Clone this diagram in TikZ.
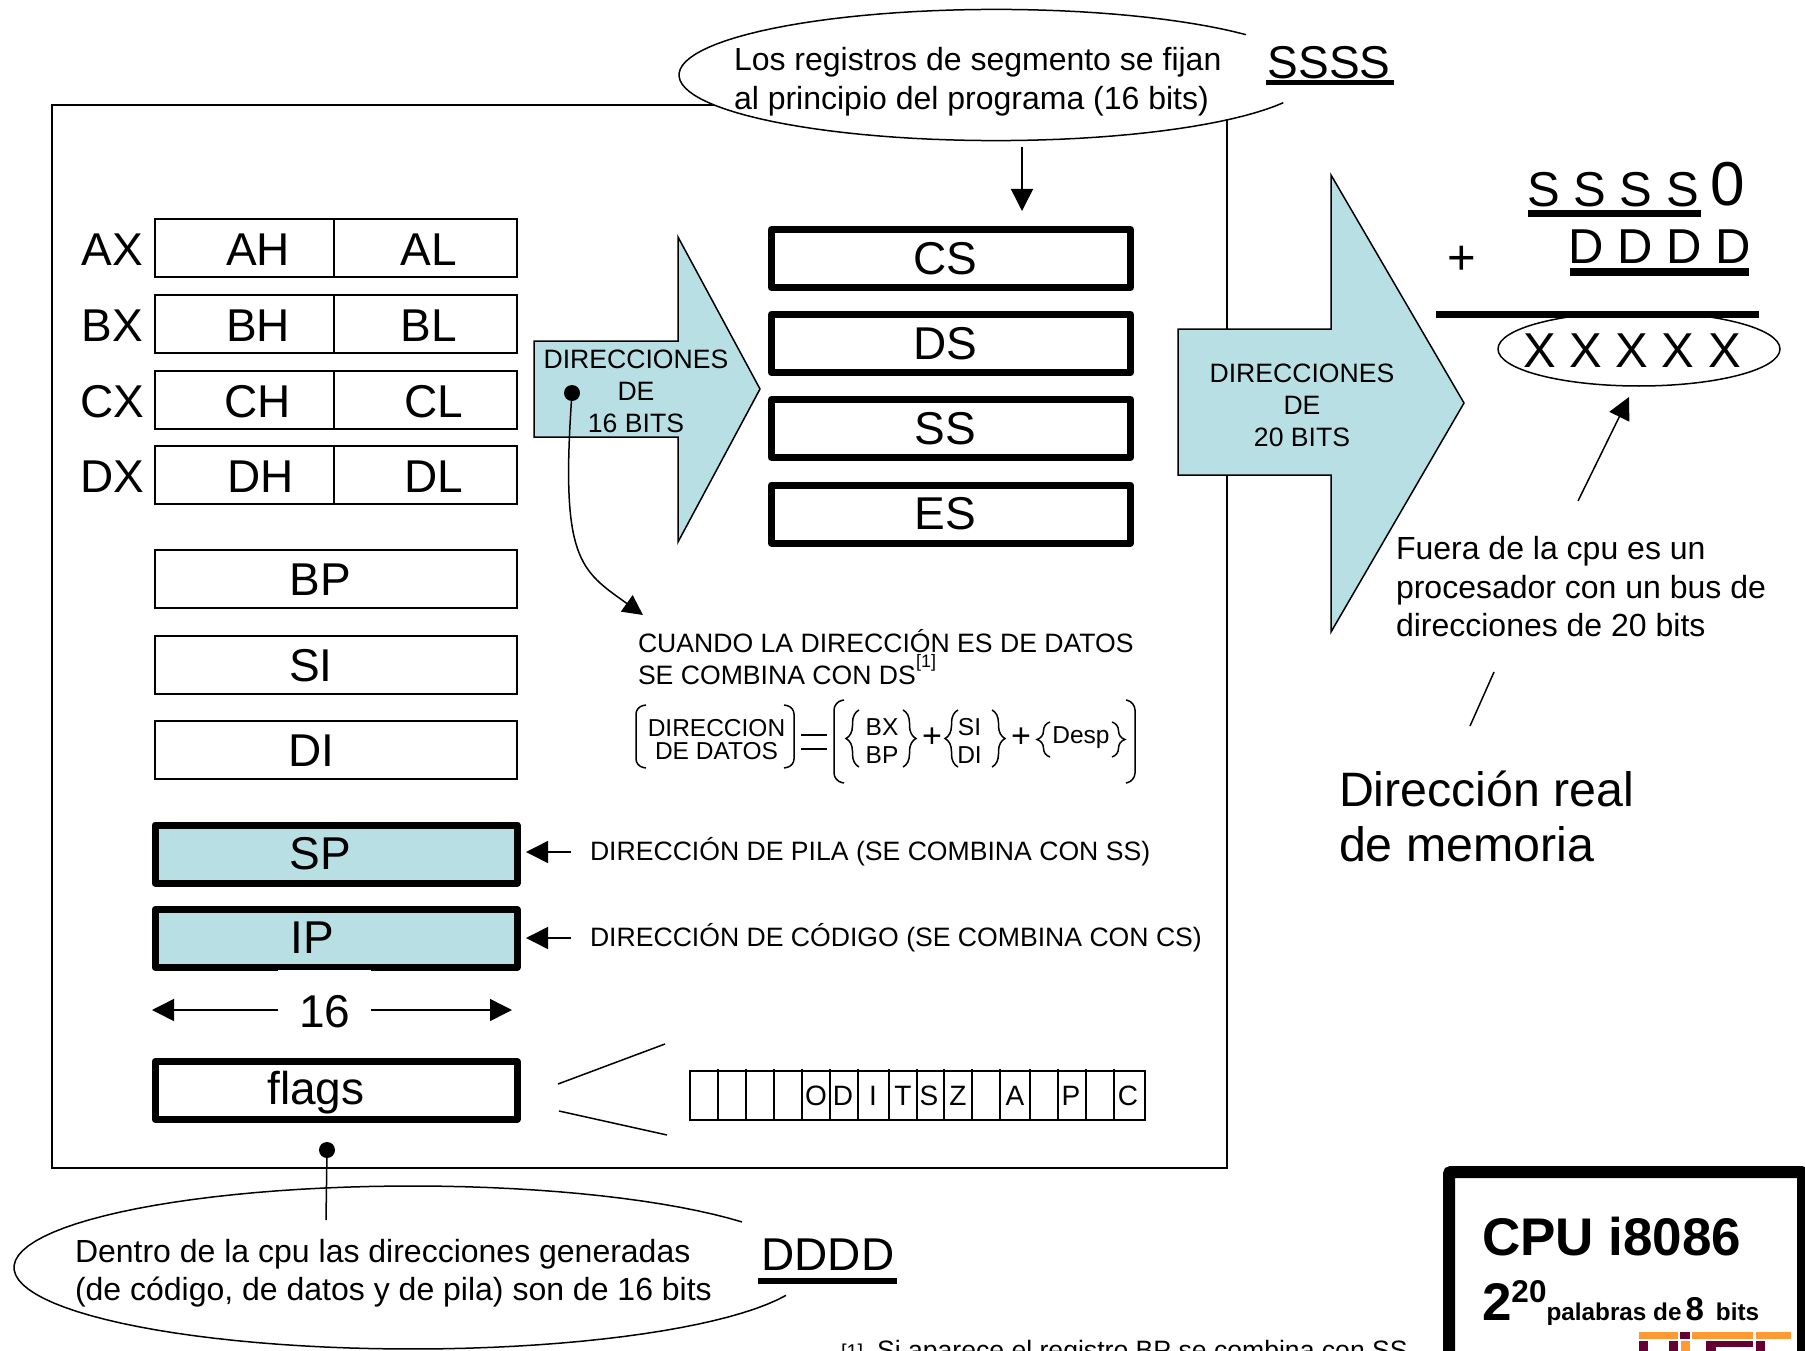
\documentclass[tikz,border=0pt]{standalone}
\usepackage{fontspec}
\setmainfont{Liberation Sans}
\usetikzlibrary{arrows.meta, decorations.pathreplacing}
\definecolor{regteal}{HTML}{B8E0E4}
\definecolor{logored}{HTML}{660033}
\definecolor{logoorg}{HTML}{FF9933}

\begin{document}
\begin{tikzpicture}[x=1pt, y=-1pt, line width=1.5pt,
    every node/.style={inner sep=0pt, outer sep=0pt},
    regbox/.style={draw, fill=white, minimum width=362pt, minimum height=58pt},
    thickbox/.style={draw, line width=7pt, line join=round, minimum width=362pt, minimum height=58pt},
    bignum/.style={font=\fontsize{46}{46}\selectfont},
    sumtext/.style={font=\fontsize{49}{49}\selectfont},
    note/.style={font=\fontsize{32}{38.5}\selectfont, align=left},
    small/.style={font=\fontsize{26.6}{32}\selectfont, align=center},
    tiny/.style={font=\fontsize{24.5}{23.5}\selectfont, align=center},
    tip/.style={-{Triangle[length=22pt, width=22pt]}},
    sumline/.style={line width=7pt},
    arrowfill/.style={draw, fill=regteal, line join=miter},
    bracebit/.style={decorate, decoration={brace, amplitude=13pt}}]
    \clip (0,0) rectangle (1805,1351);

    \draw (52,105) rectangle (1227,1168);

    % callout ellipses
    \fill[white] (996,75) ellipse [x radius=317, y radius=65.6];
    \draw plot[domain=25:322, samples=90] ({996+317*cos(\x)},{75+65.6*sin(\x)});
    \node[note, anchor=west] (segtext) at (734,81.5) {Los registros de segmento se fijan\\al principio del programa (16 bits)};
    \node[bignum] (ssss) at (1329,63) {SSSS};
    \coordinate (ssa) at (1266,83);
    \coordinate (ssb) at (1394,83);
    \draw[line width=5pt] (ssa) -- (ssb);

    \fill[white] (412,1267.5) ellipse [x radius=398, y radius=81.5];
    \draw plot[domain=20:326, samples=90] ({412+398*cos(\x)},{1267.5+81.5*sin(\x)});
    \node[note, anchor=west] (cputext) at (75,1273) {Dentro de la cpu las direcciones generadas\\(de código, de datos y de pila) son de 16 bits};
    \node[bignum] (dddd) at (828,1255) {DDDD};
    \coordinate (dda) at (758,1281);
    \coordinate (ddb) at (897,1281);
    \draw[line width=6pt] (dda) -- (ddb);
    \node[circle, fill, minimum size=16pt] (dotflags) at (327,1150) {};
    \coordinate (dotend) at (326,1220);
    \draw (dotflags.center) -- (dotend);

    % general registers
    \foreach \n/\y/\a/\ax/\b/\bx in {AX/248/AH/258/AL/429, BX/324/BH/258/BL/429, CX/400/CH/258/CL/434, DX/475/DH/261/DL/434} {
        \node[regbox] (box\n) at (336,\y) {};
        \draw ([xshift=-2pt]box\n.north) -- ([xshift=-2pt]box\n.south);
        \node[bignum] (lab\n) at (112,\y+2) {\n};
        \node[bignum] (lab\a) at (\ax,\y+2) {\a};
        \node[bignum] (lab\b) at (\bx,\y+2) {\b};
    }
    \foreach \n/\y/\tx in {BP/579/320, SI/665/311, DI/750/311} {
        \node[regbox] (box\n) at (336,\y) {};
        \node[bignum] (lab\n) at (\tx,\y+1) {\n};
    }
    \node[thickbox, fill=regteal] (boxSP) at (336,854) {};
    \node[bignum] (labSP) at (320,854) {SP};
    \node[thickbox, fill=regteal] (boxIP) at (336,938.5) {};
    \node[bignum] (labIP) at (312,938) {IP};
    \node[thickbox, fill=white] (boxflags) at (336,1090.5) {};
    \node[bignum] (labflags) at (316,1093) {flags};

    \node[fill=white, minimum width=93pt, minimum height=82pt] (num16) at (324.5,1011) {};
    \node[bignum] (lab16) at (325,1012) {16};
    \coordinate (wl) at (152,1010);
    \coordinate (wr) at (512,1010);
    \draw[tip] (num16.west |- wl) -- (wl);
    \draw[tip] (num16.east |- wr) -- (wr);

    % segment registers
    \foreach \n/\y in {CS/258.5, DS/343.5, SS/428.5, ES/514} {
        \node[thickbox, minimum width=359pt] (box\n) at (951,\y) {};
        \node[bignum] (lab\n) at (945,\y) {\n};
    }
    \coordinate (csa) at (1022,147);
    \coordinate (csb) at (1022,211);
    \draw[tip] (csa) -- (csb);

    % direction arrows
    \draw[arrowfill] (534,341) -- (678,341) -- (678,237) -- (760,389) -- (678,542) -- (678,437) -- (534,437) -- cycle;
    \node[small] (bits16) at (636,391) {DIRECCIONES\\DE\\16 BITS};
    \draw[arrowfill] (1178,329) -- (1331,329) -- (1331,175) -- (1464,403) -- (1331,632) -- (1331,475) -- (1178,475) -- cycle;
    \node[small] (bits20) at (1302,405) {DIRECCIONES\\DE\\20 BITS};

    \node[circle, fill, minimum size=16pt] (dotbits) at (572,393) {};
    \coordinate (curveend) at (643,615);
    \draw[-{Triangle[length=20pt, width=20pt]}] (dotbits.center) .. controls (560,560) and (580,570) .. (curveend);

    % data address formula
    \node[small, anchor=west, align=left] (datatext) at (638,657) {CUANDO LA DIRECCIÓN ES DE DATOS\\SE COMBINA CON DS};
    \node[font=\fontsize{18}{18}\selectfont] (datanote) at (926,663) {[1]};
    \draw[rounded corners=7pt] (646,705) -- (636,707) -- (636,766) -- (646,768);
    \draw[rounded corners=7pt] (784,705) -- (794,707) -- (794,766) -- (784,768);
    \node[tiny] (addrname) at (716.5,739.5) {DIRECCION\\DE DATOS};
    \coordinate (eqa) at (801,735);
    \coordinate (eqb) at (827,735);
    \coordinate (eqc) at (801,749);
    \coordinate (eqd) at (827,749);
    \draw (eqa) -- (eqb) (eqc) -- (eqd);
    \draw[rounded corners=8pt] (844,700) -- (834,702) -- (834,781) -- (844,783);
    \draw[rounded corners=8pt] (1126,700) -- (1135,702) -- (1135,781) -- (1126,783);
    \draw[bracebit] (859,767) -- (859,710);
    \draw[bracebit] (903,710) -- (903,767);
    \node[tiny] (basebx) at (882,727) {BX};
    \node[tiny] (basebp) at (882,755) {BP};
    \node[font=\fontsize{34}{34}\selectfont] (plusa) at (932,738) {+};
    \draw[bracebit] (958,767) -- (958,710);
    \draw[bracebit] (992,710) -- (992,767);
    \node[tiny] (basesi) at (969.5,727) {SI};
    \node[tiny] (basedi) at (969.5,755) {DI};
    \node[font=\fontsize{34}{34}\selectfont] (plusb) at (1021,738) {+};
    \draw[bracebit] (1050,757) -- (1050,722);
    \draw[bracebit] (1112,722) -- (1112,757);
    \node[tiny] (desp) at (1081,738) {Desp};

    % pointers to SP and IP
    \coordinate (spfrom) at (571,852);
    \coordinate (spto) at (526,852);
    \coordinate (ipfrom) at (571,938);
    \coordinate (ipto) at (526,938);
    \draw[tip] (spfrom) -- (spto);
    \draw[tip] (ipfrom) -- (ipto);
    \node[small, anchor=west] (sptext) at (590,852) {DIRECCIÓN DE PILA (SE COMBINA CON SS)};
    \node[small, anchor=west] (iptext) at (590,938) {DIRECCIÓN DE CÓDIGO (SE COMBINA CON CS)};

    % flags detail
    \coordinate (fa) at (558,1084);
    \coordinate (fb) at (665,1044);
    \coordinate (fc) at (559,1111);
    \coordinate (fd) at (667,1135);
    \draw (fa) -- (fb) (fc) -- (fd);
    \node[draw, minimum width=455pt, minimum height=49pt] (flagbits) at (917.5,1095.5) {};
    \foreach \x in {718,746,774,802,830,858,889,917,944,972,1000,1030,1058,1086,1114}
        \draw (\x,1069) -- (\x,1120);
    \foreach \t/\x in {O/816, D/843, I/873, T/903, S/929, Z/958, A/1015, P/1071, C/1128}
        \node[font=\fontsize{28}{28}\selectfont] (flag\t) at (\x,1096) {\t};

    % the sum
    \node[sumtext] (sumS) at (1613,190) {S S S S};
    \node[font=\fontsize{62}{62}\selectfont] (sumzero) at (1728,184) {0};
    \coordinate (usa) at (1528,214);
    \coordinate (usb) at (1701,214);
    \draw[sumline] (usa) -- (usb);
    \node[sumtext] (sumD) at (1660,247) {D D D D};
    \coordinate (uda) at (1570,272);
    \coordinate (udb) at (1749,272);
    \draw[sumline] (uda) -- (udb);
    \node[sumtext] (plus) at (1462,260) {+};
    \draw (1639,349) ellipse [x radius=141, y radius=37];
    \coordinate (suma) at (1436,314);
    \coordinate (sumb) at (1759,314);
    \draw[sumline] (suma) -- (sumb);
    \node[sumtext] (sumX) at (1632,351) {X X X X X};
    \coordinate (reala) at (1578,501);
    \coordinate (realb) at (1629,397);
    \draw[tip] (reala) -- (realb);

    \node[note, anchor=west] (outtext) at (1396,587) {Fuera de la cpu es un\\procesador con un bus de\\direcciones de 20 bits};
    \coordinate (linea) at (1494,672);
    \coordinate (lineb) at (1470,726);
    \draw (linea) -- (lineb);
    \node[font=\fontsize{48.3}{55}\selectfont, align=left, anchor=west] (realtext) at (1339,816) {Dirección real\\de memoria};

    % footnote and cpu card
    \node[font=\fontsize{20}{20}\selectfont, anchor=base west] (footnum) at (841,1358) {[1]};
    \node[font=\fontsize{26.6}{26.6}\selectfont, anchor=base west] (foottext) at (877,1359) {Si aparece el registro BP se combina con SS};
    \draw[line width=12pt, rounded corners=2pt] (1449,1400) -- (1449,1172) -- (1803,1172) -- (1803,1400);
    \node[font=\fontsize{53}{53}\selectfont\bfseries, anchor=base west] (cpuname) at (1482,1255) {CPU i8086};
    \node[font=\fontsize{24.3}{24.3}\selectfont\bfseries, anchor=base west] (cpusize) at (1482,1320)
        {{\fontsize{53}{53}\selectfont 2}\raisebox{18pt}{\fontsize{31.5}{31.5}\selectfont 20}palabras de{\kern4pt\fontsize{33}{33}\selectfont 8}\kern12pt bits};

    % logo
    \foreach \c/\xa/\xb in {logoorg/1639/1678, logored/1680/1690, logoorg/1692/1753, logoorg/1756/1791}
        \fill[\c] (\xa,1332) rectangle (\xb,1339);
    \foreach \c/\xa/\xb in {logored/1639/1648, logored/1669/1678, logoorg/1681/1690, logored/1706/1716, logored/1756/1765}
        \fill[\c] (\xa,1341) rectangle (\xb,1351);
    \fill[logored] (1716,1341) rectangle (1753,1347);
\end{tikzpicture}
\end{document}
